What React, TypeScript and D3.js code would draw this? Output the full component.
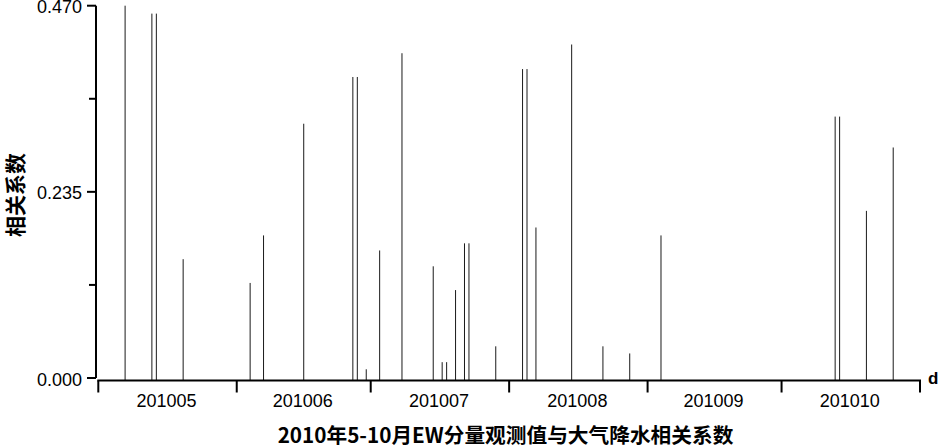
import React from "react";
import * as d3 from "d3";

const dates = [
  "2010-05-07", "2010-05-13", "2010-05-14", "2010-05-20",
  "2010-06-04", "2010-06-07", "2010-06-16", "2010-06-27", "2010-06-28", "2010-06-30",
  "2010-07-03", "2010-07-08", "2010-07-15", "2010-07-17", "2010-07-18", "2010-07-20",
  "2010-07-22", "2010-07-23", "2010-07-29",
  "2010-08-04", "2010-08-05", "2010-08-07", "2010-08-15", "2010-08-22", "2010-08-28",
  "2010-09-04",
  "2010-10-13", "2010-10-14", "2010-10-20", "2010-10-26",
];
const values = [
  0.470, 0.460, 0.460, 0.150,
  0.120, 0.180, 0.321, 0.380, 0.380, 0.011,
  0.161, 0.410, 0.141, 0.020, 0.020, 0.111,
  0.170, 0.170, 0.040,
  0.390, 0.390, 0.190, 0.421, 0.040, 0.031,
  0.180,
  0.330, 0.330, 0.211, 0.291,
];
const majorTicks = [0, 0.235, 0.47];
const minorTicks = [0.1175, 0.3525];
const monthLabels = ["201005", "201006", "201007", "201008", "201009", "201010"];
const yLabel = "相关系数";
const title = "2010年5-10月EW分量观测值与大气降水相关系数";
const xUnit = "d";

export default function App() {
  const W = 939, H = 446;
  const x = d3.scaleUtc()
    .domain([new Date(Date.UTC(2010, 4, 1)), new Date(Date.UTC(2010, 10, 1))])
    .range([98.3, 920]);
  const y = d3.scaleLinear().domain([0, 0.47]).range([378, 5.7]);
  const xAxisY = 380.5;
  const yAxisX = 96;
  const monthStarts = d3.utcMonth.range(new Date(Date.UTC(2010, 4, 1)), new Date(Date.UTC(2010, 10, 2)));
  const parse = d3.utcParse("%Y-%m-%d");
  const numFont = "'Liberation Sans', Arial, sans-serif";
  const cjkFont = "'Noto Sans CJK SC', sans-serif";
  const fmt = d3.format(".3f");

  return (
    <svg width={W} height={H} style={{ position: "absolute", left: 0, top: 0, background: "#fff" }}>
      {/* bars */}
      {dates.map((d, i) => {
        const xx = x(parse(d) as Date);
        return (
          <line key={i} x1={xx} x2={xx} y1={xAxisY} y2={y(values[i])} stroke="#1a1a1a" strokeWidth={1} />
        );
      })}
      {/* y axis */}
      <line x1={yAxisX} x2={yAxisX} y1={y(0.47)} y2={y(0)} stroke="#000" strokeWidth={2} />
      {majorTicks.map((t, i) => (
        <g key={"mj" + i}>
          <line x1={yAxisX - 9} x2={yAxisX} y1={y(t)} y2={y(t)} stroke="#000" strokeWidth={2} />
          <text x={82} y={y(t)} dy="0.42em" textAnchor="end" fontFamily={numFont} fontSize={18} fill="#000">
            {fmt(t)}
          </text>
        </g>
      ))}
      {minorTicks.map((t, i) => (
        <line key={"mn" + i} x1={yAxisX - 7} x2={yAxisX} y1={y(t)} y2={y(t)} stroke="#000" strokeWidth={2} />
      ))}
      {/* x axis */}
      <line x1={x.range()[0] - 1} x2={x.range()[1] + 1} y1={xAxisY} y2={xAxisY} stroke="#000" strokeWidth={2} />
      {monthStarts.map((m, i) => (
        <line key={"xt" + i} x1={x(m)} x2={x(m)} y1={xAxisY} y2={xAxisY + 12} stroke="#000" strokeWidth={2} />
      ))}
      {monthLabels.map((lab, i) => {
        const cx = (x(monthStarts[i]) + x(monthStarts[i + 1])) / 2;
        return (
          <text key={"xl" + i} x={cx - 1} y={407} textAnchor="middle" fontFamily={numFont} fontSize={18} fill="#000">
            {lab}
          </text>
        );
      })}
      <text x={928} y={384} fontFamily={numFont} fontSize={17} fontWeight="bold" fill="#000">{xUnit}</text>
      {/* y label */}
      <text
        transform={`translate(13.5,195) rotate(-90)`}
        textAnchor="middle"
        dominantBaseline="central"
        fontFamily={cjkFont}
        fontSize={21}
        fontWeight="bold"
        fill="#000"
      >
        {yLabel}
      </text>
      {/* title */}
      <text x={505.5} y={443} textAnchor="middle" fontFamily={cjkFont} fontSize={20.7} fontWeight="bold" fill="#000">
        {title}
      </text>
    </svg>
  );
}
